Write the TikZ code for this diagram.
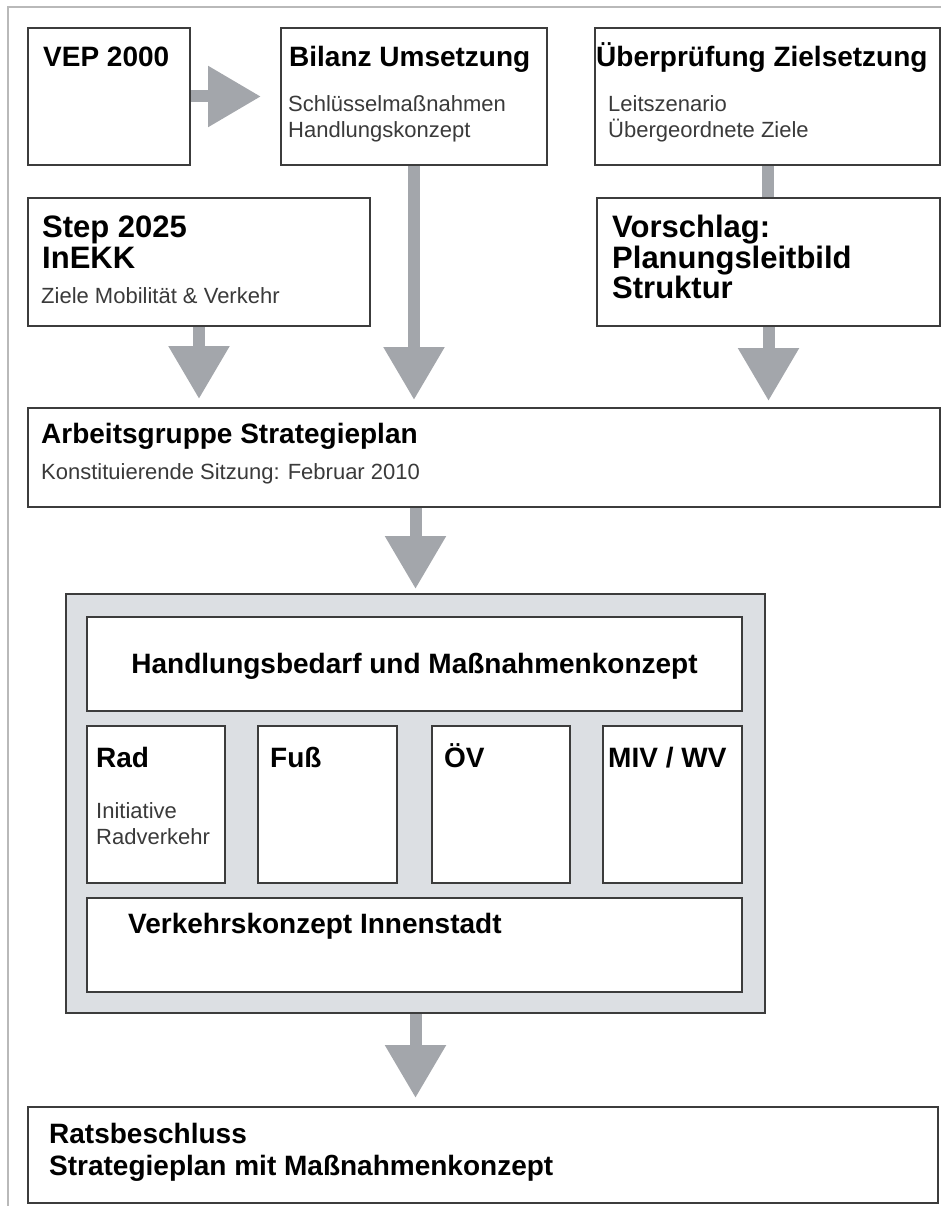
\documentclass[tikz,border=0pt]{standalone}
\usepackage{fontspec}
\setmainfont{Liberation Sans}
\usetikzlibrary{arrows.meta, calc, positioning, backgrounds}
\definecolor{boxline}{HTML}{3C3C3C}
\definecolor{arrowgray}{HTML}{A3A6AB}
\definecolor{groupfill}{HTML}{DCDFE3}
\definecolor{framegray}{HTML}{B9B9B9}
\definecolor{subtext}{HTML}{3A3A3A}
\tikzset{
    box/.style={rectangle, draw=boxline, line width=2pt, fill=white, anchor=north west, inner sep=0pt},
    head/.style={anchor=base west, inner sep=0pt, font=\bfseries\fontsize{28}{32}\selectfont},
    bighead/.style={head, font=\bfseries\fontsize{31}{31}\selectfont},
    sub/.style={anchor=base west, inner sep=0pt, text=subtext, font=\fontsize{22}{26}\selectfont},
    flow/.style={draw=arrowgray, line width=12pt, -{Triangle[length=53pt, width=58pt]}},
    link/.style={draw=arrowgray, line width=12pt}
}

\begin{document}
\begin{tikzpicture}[x=1pt, y=-1pt]
    \useasboundingbox (0,0) rectangle (941,1206);
    \draw [framegray, line width=1.5pt] (8,1206) -- (8,7) -- (941,7);

    % --- Ausgangslage ---
    \node (vep) [box, minimum width=162pt, minimum height=137pt] at (27,27) {};
    \node (bilanz) [box, minimum width=266pt, minimum height=137pt] at (280,27) {};
    \node (pruefung) [box, minimum width=345pt, minimum height=137pt] at (594,27) {};
    \node (step) [box, minimum width=342pt, minimum height=128pt] at (27,197) {};
    \node (vorschlag) [box, minimum width=343pt, minimum height=128pt] at (596,197) {};

    \node (vep-t) [head] at ($(vep.north west)+(16,40)$) {VEP 2000};
    \node (bilanz-t) [head] at ($(bilanz.north west)+(9,40)$) {Bilanz Umsetzung};
    \node (bilanz-a) [sub] at ($(bilanz.north west)+(8,85)$) {Schlüsselmaßnahmen};
    \node (bilanz-b) [sub] at ($(bilanz.north west)+(8,111)$) {Handlungskonzept};
    \node (pruefung-t) [head] at ($(pruefung.north west)+(2,40)$) {Überprüfung Zielsetzung};
    \node (pruefung-a) [sub] at ($(pruefung.north west)+(14,85)$) {Leitszenario};
    \node (pruefung-b) [sub] at ($(pruefung.north west)+(14,111)$) {Übergeordnete Ziele};
    \node (step-t) [bighead] at ($(step.north west)+(15,40)$) {Step 2025};
    \node (step-u) [bighead] at ($(step.north west)+(15,71)$) {InEKK};
    \node (step-a) [sub] at ($(step.north west)+(14,106)$) {Ziele Mobilität \& Verkehr};
    \node (vorschlag-t) [bighead] at ($(vorschlag.north west)+(16,40)$) {Vorschlag:};
    \node (vorschlag-u) [bighead] at ($(vorschlag.north west)+(16,71)$) {Planungsleitbild};
    \node (vorschlag-v) [bighead] at ($(vorschlag.north west)+(16,101)$) {Struktur};

    % --- Arbeitsgruppe ---
    \node (arbeit) [box, minimum width=912pt, minimum height=99pt] at (27,407) {};
    \node (arbeit-t) [head] at ($(arbeit.north west)+(14,36)$) {Arbeitsgruppe Strategieplan};
    \node (arbeit-a) [sub] at ($(arbeit.north west)+(14,72)$) {Konstituierende Sitzung: Februar 2010};

    % --- Massnahmenkonzept ---
    \node (gruppe) [box, fill=groupfill, minimum width=699pt, minimum height=419pt] at (65,593) {};
    \node (handlung) [box, minimum width=655pt, minimum height=94pt] at (86,616) {};
    \node (rad) [box, minimum width=138pt, minimum height=157pt] at (86,725) {};
    \node (fuss) [box, minimum width=139pt, minimum height=157pt] at (257,725) {};
    \node (oev) [box, minimum width=138pt, minimum height=157pt] at (431,725) {};
    \node (miv) [box, minimum width=139pt, minimum height=157pt] at (602,725) {};
    \node (verkehr) [box, minimum width=655pt, minimum height=94pt] at (86,897) {};

    \node (handlung-t) [head, anchor=base] at ($(handlung.north)+(0,57)$) {Handlungsbedarf und Maßnahmenkonzept};
    \node (rad-t) [head] at ($(rad.north west)+(10,42)$) {Rad};
    \node (rad-a) [sub] at ($(rad.north west)+(10,93)$) {Initiative};
    \node (rad-b) [sub] at ($(rad.north west)+(10,119)$) {Radverkehr};
    \node (fuss-t) [head] at ($(fuss.north west)+(13,42)$) {Fuß};
    \node (oev-t) [head] at ($(oev.north west)+(13,42)$) {ÖV};
    \node (miv-t) [head] at ($(miv.north west)+(6,42)$) {MIV / WV};
    \node (verkehr-t) [head] at ($(verkehr.north west)+(42,36)$) {Verkehrskonzept Innenstadt};

    % --- Beschluss ---
    \node (rats) [box, minimum width=910pt, minimum height=96pt] at (27,1106) {};
    \node (rats-t) [head] at ($(rats.north west)+(22,37)$) {Ratsbeschluss};
    \node (rats-u) [head] at ($(rats.north west)+(22,69)$) {Strategieplan mit Maßnahmenkonzept};

    % --- Pfeile ---
    \begin{scope}[on background layer]
        \draw [flow, shorten >=19pt] (vep.east) -- (bilanz.west);
        \draw [flow, shorten >=8pt] (step.south) -- (step.south |- arbeit.north);
        \draw [flow, shorten >=7pt] (bilanz.south) -- (bilanz.south |- arbeit.north);
        \draw [link] (pruefung.south) -- (pruefung.south |- vorschlag.north);
        \draw [flow, shorten >=6pt] (vorschlag.south) -- (vorschlag.south |- arbeit.north);
        \draw [flow, shorten >=4pt] (gruppe.north |- arbeit.south) -- (gruppe.north);
        \draw [flow, shorten >=8pt] (gruppe.south) -- (gruppe.south |- rats.north);
    \end{scope}
\end{tikzpicture}
\end{document}
